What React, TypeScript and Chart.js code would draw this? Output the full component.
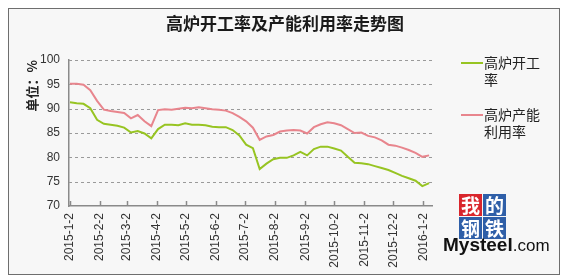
import React, { useEffect, useRef } from "react";
import { Chart, registerables } from "chart.js";

Chart.register(...registerables);

const chartTitle = "高炉开工率及产能利用率走势图";
const yAxisTitle = "单位：%";
const seriesNames = ["高炉开工率", "高炉产能利用率"];
const seriesColors = ["#97c422", "#e8858d"];

const dates = [
  "2015-1-2", "2015-1-9", "2015-1-16", "2015-1-23", "2015-1-30",
  "2015-2-6", "2015-2-13", "2015-2-20", "2015-2-27",
  "2015-3-6", "2015-3-13", "2015-3-20", "2015-3-27",
  "2015-4-3", "2015-4-10", "2015-4-17", "2015-4-24",
  "2015-5-1", "2015-5-8", "2015-5-15", "2015-5-22", "2015-5-29",
  "2015-6-5", "2015-6-12", "2015-6-19", "2015-6-26",
  "2015-7-3", "2015-7-10", "2015-7-17", "2015-7-24", "2015-7-31",
  "2015-8-7", "2015-8-14", "2015-8-21", "2015-8-28",
  "2015-9-4", "2015-9-11", "2015-9-18", "2015-9-25",
  "2015-10-2", "2015-10-9", "2015-10-16", "2015-10-23", "2015-10-30",
  "2015-11-6", "2015-11-13", "2015-11-20", "2015-11-27",
  "2015-12-4", "2015-12-11", "2015-12-18", "2015-12-25",
  "2016-1-1", "2016-1-8",
];

const openRate = [
  91.3, 91.1, 91.0, 90.1, 87.7,
  86.9, 86.7, 86.5, 86.1,
  85.1, 85.4, 84.9, 83.9,
  85.8, 86.7, 86.7, 86.6,
  87.0, 86.7, 86.7, 86.6, 86.3,
  86.2, 86.2, 85.6, 84.5,
  82.6, 81.9, 77.6, 78.7, 79.6,
  79.9, 79.9, 80.4, 81.1,
  80.4, 81.7, 82.2, 82.2,
  81.8, 81.4, 80.1, 78.9, 78.8,
  78.6, 78.2, 77.8, 77.4,
  76.8, 76.2, 75.7, 75.2,
  74.1, 74.7,
];

const capacityRate = [
  95.1, 95.1, 94.9, 93.8, 91.6,
  89.8, 89.5, 89.3, 89.1,
  88.0, 88.7, 87.4, 86.4,
  89.7, 89.9, 89.8, 90.0,
  90.2, 90.1, 90.3, 90.1, 89.9,
  89.8, 89.6, 89.1, 88.3,
  87.4, 86.1, 83.6, 84.3, 84.6,
  85.3, 85.5, 85.6, 85.5,
  84.9, 86.2, 86.8, 87.2,
  87.0, 86.6, 85.8, 85.0, 85.1,
  84.4, 84.1, 83.5, 82.6,
  82.4, 82.0, 81.5, 80.9,
  80.1, 80.4,
];

const tickDates = [
  "2015-1-2", "2015-2-2", "2015-3-2", "2015-4-2", "2015-5-2", "2015-6-2",
  "2015-7-2", "2015-8-2", "2015-9-2", "2015-10-2", "2015-11-2", "2015-12-2",
  "2016-1-2",
];

const yMin = 70;
const yMax = 100;
const yStep = 5;

function toDay(s: string): number {
  const [y, m, d] = s.split("-").map(Number);
  const [y0, m0, d0] = dates[0].split("-").map(Number);
  return Math.round((Date.UTC(y, m - 1, d) - Date.UTC(y0, m0 - 1, d0)) / 86400000);
}

const dashedGridPlugin = {
  id: "dashedGrid",
  beforeDatasetsDraw(chart: any) {
    const ys = chart.scales.y;
    const { ctx, chartArea } = chart;
    ctx.save();
    ctx.strokeStyle = "#9a9a9a";
    ctx.lineWidth = 1;
    ctx.setLineDash([3, 3]);
    ys.ticks.forEach((t: any) => {
      if (t.value === yMin) return;
      const py = Math.round(ys.getPixelForValue(t.value)) + 0.5;
      ctx.beginPath();
      ctx.moveTo(chartArea.left, py);
      ctx.lineTo(chartArea.right, py);
      ctx.stroke();
    });
    ctx.restore();
  },
};

const tickMarksPlugin = {
  id: "tickMarks",
  afterDatasetsDraw(chart: any) {
    const xs = chart.scales.x;
    const { ctx, chartArea } = chart;
    ctx.save();
    ctx.strokeStyle = "#8a8a8a";
    ctx.lineWidth = 1.5;
    xs.ticks.forEach((t: any) => {
      const px = Math.round(xs.getPixelForValue(t.value)) + 0.5;
      ctx.beginPath();
      ctx.moveTo(px, chartArea.bottom);
      ctx.lineTo(px, chartArea.bottom - 5);
      ctx.stroke();
    });
    ctx.restore();
  },
};

const titleLegendPlugin = {
  id: "titleLegend",
  afterDraw(chart: any) {
    const { ctx } = chart;
    ctx.save();
    ctx.fillStyle = "#1a1a1a";
    ctx.font = "bold 17px 'Noto Sans CJK SC'";
    ctx.textAlign = "center";
    ctx.textBaseline = "middle";
    ctx.fillText(chartTitle, 276, 15);

    ctx.font = "14px 'Noto Sans CJK SC'";
    ctx.textAlign = "left";
    const itemTops = [54, 106];
    chart.data.datasets.forEach((ds: any, i: number) => {
      const y = itemTops[i];
      ctx.strokeStyle = ds.borderColor;
      ctx.lineWidth = 2;
      ctx.beginPath();
      ctx.moveTo(452, y);
      ctx.lineTo(474, y);
      ctx.stroke();
      const name: string = ds.label;
      const lines: string[] = [];
      for (let k = 0; k < name.length; k += 4) lines.push(name.slice(k, k + 4));
      ctx.fillStyle = "#222";
      lines.forEach((ln, j) => ctx.fillText(ln, 475, y + j * 17));
    });
    ctx.restore();
  },
};

export default function App() {
  const ref = useRef<HTMLCanvasElement | null>(null);

  useEffect(() => {
    if (!ref.current) return;
    const tickDays = tickDates.map(toDay);
    const labelMap: Record<number, string> = {};
    tickDates.forEach((t, i) => (labelMap[tickDays[i]] = t));
    const dayList = dates.map(toDay);

    const chart = new Chart(ref.current, {
      type: "line",
      data: {
        datasets: [
          {
            label: seriesNames[0],
            data: dayList.map((x, i) => ({ x, y: openRate[i] })),
            borderColor: seriesColors[0],
            backgroundColor: seriesColors[0],
            borderWidth: 2,
            pointRadius: 0,
            tension: 0,
          },
          {
            label: seriesNames[1],
            data: dayList.map((x, i) => ({ x, y: capacityRate[i] })),
            borderColor: seriesColors[1],
            backgroundColor: seriesColors[1],
            borderWidth: 2,
            pointRadius: 0,
            tension: 0,
          },
        ],
      },
      options: {
        responsive: false,
        animation: false,
        layout: { padding: { top: 51, right: 127, left: 0, bottom: 0 } },
        plugins: {
          legend: { display: false },
          title: { display: false },
          tooltip: { enabled: false },
        },
        scales: {
          x: {
            type: "linear",
            min: -1,
            max: 374,
            afterBuildTicks: (scale: any) => {
              scale.ticks = tickDays.map((v) => ({ value: v }));
            },
            afterFit: (scale: any) => {
              scale.height = 68;
            },
            grid: { display: false, drawTicks: false },
            border: { display: true, color: "#8a8a8a", width: 1.5 },
            ticks: {
              autoSkip: false,
              maxRotation: 90,
              minRotation: 90,
              padding: 7,
              color: "#333",
              font: { family: "'Liberation Sans', Arial", size: 12 },
              callback: (v: any) => labelMap[v as number] ?? "",
            },
          },
          y: {
            min: yMin,
            max: yMax,
            afterFit: (scale: any) => {
              scale.width = 60;
            },
            grid: { display: false, drawTicks: false },
            border: { display: true, color: "#8a8a8a", width: 1.5 },
            ticks: {
              stepSize: yStep,
              padding: 9,
              color: "#333",
              font: { family: "'Liberation Sans', Arial", size: 12 },
            },
            title: {
              display: true,
              text: yAxisTitle,
              align: "end",
              color: "#222",
              padding: { top: 15, bottom: 0 },
              font: { family: "'Noto Sans CJK SC'", size: 13, weight: "bold" },
            },
          },
        },
      },
      plugins: [dashedGridPlugin, tickMarksPlugin, titleLegendPlugin],
    } as any);
    return () => chart.destroy();
  }, []);

  const box = (bg: string): React.CSSProperties => ({
    width: 23,
    height: 22,
    background: bg,
    color: "#fff",
    fontFamily: "'Noto Sans CJK SC'",
    fontWeight: "bold",
    fontSize: 19,
    lineHeight: "22px",
    textAlign: "center",
  });

  return (
    <div
      style={{
        position: "relative",
        width: 550,
        height: 265,
        border: "1px solid #6e6e6e",
        background: "#f7f7f7",
      }}
    >
      <canvas ref={ref} width={550} height={265} style={{ display: "block" }} />
      <div
        style={{
          position: "absolute",
          left: 450,
          top: 185,
          display: "grid",
          gridTemplateColumns: "23px 23px",
          gap: 1,
        }}
      >
        <div style={box("#d9262c")}>我</div>
        <div style={box("#2f5fa8")}>的</div>
        <div style={box("#2f5fa8")}>钢</div>
        <div style={box("#2f5fa8")}>铁</div>
      </div>
      <div
        style={{
          position: "absolute",
          left: 434,
          top: 226,
          fontFamily: "'Liberation Sans', Arial",
          color: "#111",
          whiteSpace: "nowrap",
          lineHeight: "20px",
        }}
      >
        <span style={{ fontWeight: "bold", fontSize: 19 }}>Mysteel</span>
        <span style={{ fontSize: 17 }}>.com</span>
      </div>
    </div>
  );
}
